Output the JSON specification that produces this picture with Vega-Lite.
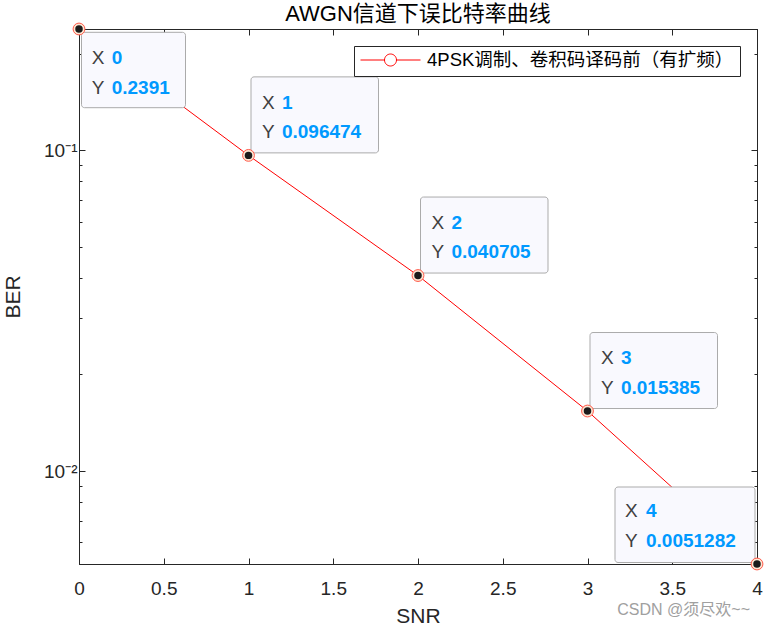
{
  "$schema": "https://vega.github.io/schema/vega-lite/v6.json",
  "width": 678,
  "height": 535,
  "autosize": {"type": "none"},
  "padding": {"left": 79, "top": 29, "right": 9, "bottom": 64},
  "background": "white",
  "title": {"text": "AWGN信道下误比特率曲线", "fontSize": 22, "fontWeight": "normal", "font": "Liberation Sans, Noto Sans CJK SC", "color": "#000000", "offset": -5},
  "datasets": {
    "ber": [
      {"SNR": 0, "BER": 0.2391, "series": "4PSK调制、卷积码译码前（有扩频）"},
      {"SNR": 1, "BER": 0.096474, "series": "4PSK调制、卷积码译码前（有扩频）"},
      {"SNR": 2, "BER": 0.040705, "series": "4PSK调制、卷积码译码前（有扩频）"},
      {"SNR": 3, "BER": 0.015385, "series": "4PSK调制、卷积码译码前（有扩频）"},
      {"SNR": 4, "BER": 0.0051282, "series": "4PSK调制、卷积码译码前（有扩频）"}
    ],
    "wm": [{"label": "CSDN @须尽欢~~"}]
  },
  "config": {
    "view": {"stroke": "#262626", "strokeWidth": 1},
    "axis": {
      "domainColor": "#262626", "tickColor": "#262626", "labelColor": "#262626", "titleColor": "#262626",
      "grid": false, "labelFont": "Liberation Sans", "titleFont": "Liberation Sans",
      "labelFontSize": 19, "titleFontSize": 21, "titleFontWeight": "normal", "domainWidth": 1, "tickWidth": 1
    },
    "legend": {
      "orient": "top-right", "offset": 17, "strokeColor": "#262626", "fillColor": "white", "padding": 6, "cornerRadius": 0,
      "labelFont": "Liberation Sans, Noto Sans CJK SC", "labelFontSize": 18.5, "labelColor": "#000000", "labelOffset": 6, "labelLimit": 0,
      "symbolType": "M-1,0L-0.2,0M0.2,0L1,0M0.2,0A0.2,0.2,0,1,1,-0.2,0A0.2,0.2,0,1,1,0.2,0",
      "symbolSize": 3600, "symbolStrokeWidth": 1, "symbolFillColor": "transparent", "clipHeight": 16
    }
  },
  "layer": [
    {
      "data": {"name": "ber"},
      "encoding": {
        "x": {"field": "SNR", "type": "quantitative", "scale": {"domain": [0, 4], "nice": false, "zero": false},
          "axis": {"orient": "bottom", "values": [0, 0.5, 1, 1.5, 2, 2.5, 3, 3.5, 4], "format": ".1~f", "tickSize": -6, "labelPadding": 21, "labelFlush": false, "title": "SNR", "titlePadding": 7}},
        "y": {"field": "BER", "type": "quantitative", "scale": {"type": "log", "domain": [0.0051282, 0.2391], "nice": false},
          "axis": {"orient": "left", "values": [0.006, 0.007, 0.008, 0.009, 0.01, 0.02, 0.03, 0.04, 0.05, 0.06, 0.07, 0.08, 0.09, 0.1, 0.2],
            "labelExpr": "datum.value == 0.1 ? '10⁻¹' : (datum.value == 0.01 ? '10⁻²' : '')",
            "tickSize": {"condition": {"test": "datum.value == 0.1 || datum.value == 0.01", "value": -6}, "value": -3},
            "labelPadding": 8, "labelFlush": false, "title": "BER", "titlePadding": 20}}
      },
      "layer": [
        {"mark": {"type": "line", "strokeWidth": 1},
          "encoding": {"color": {"field": "series", "type": "nominal", "scale": {"range": ["#ff0000"]}, "legend": {"title": null}}}},
        {"transform": [{"filter": "datum.SNR == 0"}],
          "mark": {"type": "rect", "fill": "#f9f9fe", "stroke": "#ababab", "strokeWidth": 1, "cornerRadius": 3, "xOffset": 2.5, "x2Offset": 106.5, "yOffset": 3.3, "y2Offset": 78.7},
          "encoding": {"x2": {"field": "SNR"}, "y2": {"field": "BER"}}},
        {"transform": [{"filter": "datum.SNR >= 1 && datum.SNR <= 3"}],
          "mark": {"type": "rect", "fill": "#f9f9fe", "stroke": "#ababab", "strokeWidth": 1, "cornerRadius": 3, "xOffset": 2.5, "x2Offset": 130, "yOffset": -78.5, "y2Offset": -2.5},
          "encoding": {"x2": {"field": "SNR"}, "y2": {"field": "BER"}}},
        {"transform": [{"filter": "datum.SNR == 4"}],
          "mark": {"type": "rect", "fill": "#f9f9fe", "stroke": "#ababab", "strokeWidth": 1, "cornerRadius": 3, "xOffset": -142, "x2Offset": -2, "yOffset": -77, "y2Offset": -1.5},
          "encoding": {"x2": {"field": "SNR"}, "y2": {"field": "BER"}}},
        {"mark": {"type": "point", "shape": "circle", "filled": true, "fill": "#fde6d2", "stroke": "#ff5a4a", "strokeWidth": 1, "size": 140, "opacity": 1}},
        {"mark": {"type": "point", "shape": "circle", "filled": true, "fill": "#1b1b1b", "size": 56, "opacity": 1}},
        {"transform": [{"filter": "datum.SNR == 0"}],
          "mark": {"type": "text", "text": ["X", "Y"], "lineHeight": 29.5, "align": "left", "baseline": "alphabetic", "dx": 12.7, "dy": 35, "font": "Liberation Sans", "fontSize": 19, "color": "#404040"}},
        {"transform": [{"filter": "datum.SNR == 0"}],
          "mark": {"type": "text", "align": "left", "baseline": "alphabetic", "dx": 32.7, "dy": 35, "font": "Liberation Sans", "fontSize": 19, "fontWeight": "bold", "color": "#0099ff"},
          "encoding": {"text": {"field": "SNR", "type": "nominal"}}},
        {"transform": [{"filter": "datum.SNR == 0"}],
          "mark": {"type": "text", "align": "left", "baseline": "alphabetic", "dx": 32.7, "dy": 64.5, "font": "Liberation Sans", "fontSize": 19, "fontWeight": "bold", "color": "#0099ff"},
          "encoding": {"text": {"field": "BER", "type": "nominal"}}},
        {"transform": [{"filter": "datum.SNR >= 1 && datum.SNR <= 3"}],
          "mark": {"type": "text", "text": ["X", "Y"], "lineHeight": 29.5, "align": "left", "baseline": "alphabetic", "dx": 13.4, "dy": -46.7, "font": "Liberation Sans", "fontSize": 19, "color": "#404040"}},
        {"transform": [{"filter": "datum.SNR >= 1 && datum.SNR <= 3"}],
          "mark": {"type": "text", "align": "left", "baseline": "alphabetic", "dx": 33.4, "dy": -46.7, "font": "Liberation Sans", "fontSize": 19, "fontWeight": "bold", "color": "#0099ff"},
          "encoding": {"text": {"field": "SNR", "type": "nominal"}}},
        {"transform": [{"filter": "datum.SNR >= 1 && datum.SNR <= 3"}],
          "mark": {"type": "text", "align": "left", "baseline": "alphabetic", "dx": 33.4, "dy": -17.2, "font": "Liberation Sans", "fontSize": 19, "fontWeight": "bold", "color": "#0099ff"},
          "encoding": {"text": {"field": "BER", "type": "nominal"}}},
        {"transform": [{"filter": "datum.SNR == 4"}],
          "mark": {"type": "text", "text": ["X", "Y"], "lineHeight": 29.5, "align": "left", "baseline": "alphabetic", "dx": -132, "dy": -47, "font": "Liberation Sans", "fontSize": 19, "color": "#404040"}},
        {"transform": [{"filter": "datum.SNR == 4"}],
          "mark": {"type": "text", "align": "left", "baseline": "alphabetic", "dx": -111, "dy": -47, "font": "Liberation Sans", "fontSize": 19, "fontWeight": "bold", "color": "#0099ff"},
          "encoding": {"text": {"field": "SNR", "type": "nominal"}}},
        {"transform": [{"filter": "datum.SNR == 4"}],
          "mark": {"type": "text", "align": "left", "baseline": "alphabetic", "dx": -111, "dy": -17.5, "font": "Liberation Sans", "fontSize": 19, "fontWeight": "bold", "color": "#0099ff"},
          "encoding": {"text": {"field": "BER", "type": "nominal"}}}
      ]
    },
    {
      "data": {"name": "ber"},
      "mark": {"type": "point", "opacity": 0},
      "encoding": {
        "x": {"field": "SNR", "type": "quantitative",
          "axis": {"orient": "top", "values": [0, 0.5, 1, 1.5, 2, 2.5, 3, 3.5, 4], "labels": false, "tickSize": -6, "title": null, "minExtent": 0, "maxExtent": 0}},
        "y": {"field": "BER", "type": "quantitative",
          "axis": {"orient": "right", "values": [0.006, 0.007, 0.008, 0.009, 0.01, 0.02, 0.03, 0.04, 0.05, 0.06, 0.07, 0.08, 0.09, 0.1, 0.2], "labels": false, "title": null, "minExtent": 0, "maxExtent": 0,
            "tickSize": {"condition": {"test": "datum.value == 0.1 || datum.value == 0.01", "value": -6}, "value": -3}}}
      }
    },
    {
      "data": {"name": "wm"},
      "mark": {"type": "text", "align": "right", "baseline": "alphabetic", "dx": -7, "dy": 51, "font": "Liberation Sans, Noto Sans CJK SC", "fontSize": 16, "color": "#a0a0a0"},
      "encoding": {
        "x": {"datum": 4, "type": "quantitative", "axis": null},
        "y": {"datum": 0.0051282, "type": "quantitative", "axis": null},
        "text": {"field": "label", "type": "nominal"}
      }
    }
  ],
  "resolve": {"axis": {"x": "independent", "y": "independent"}}
}
